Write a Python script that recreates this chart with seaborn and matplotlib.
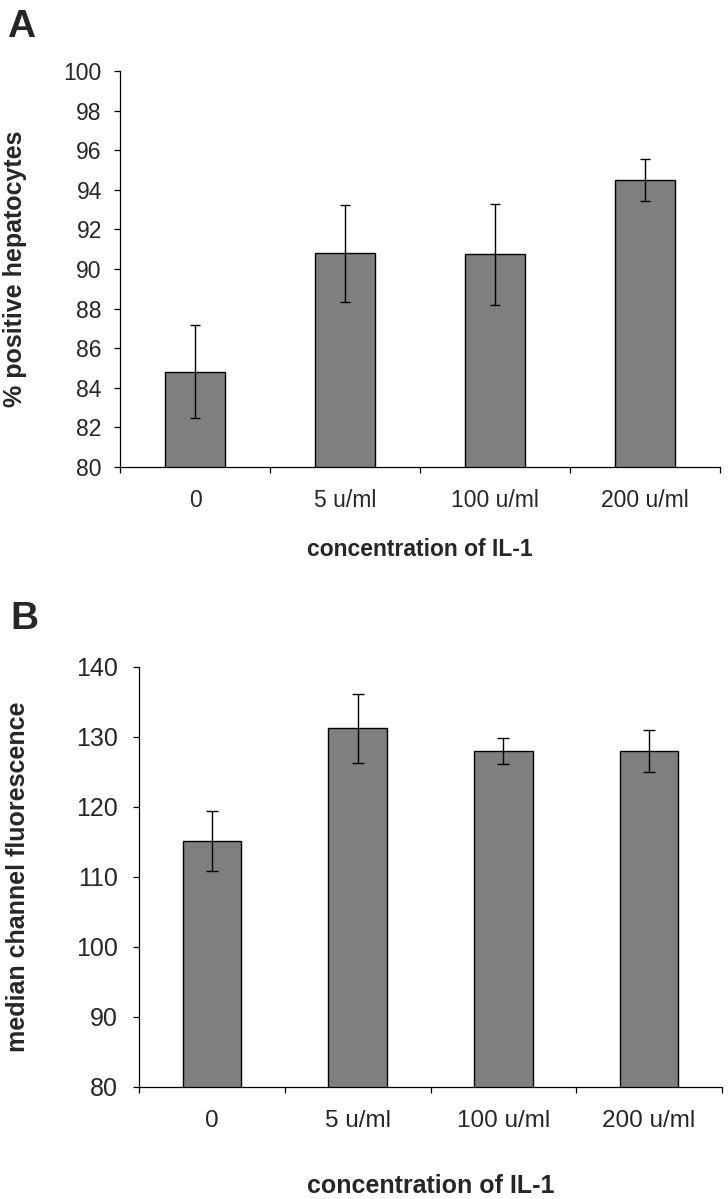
import pandas as pd
import matplotlib
matplotlib.use("Agg")
from matplotlib import pyplot as plt
from matplotlib.ticker import FixedLocator
import seaborn as sns

# data
concentrations = ['0', '5 u/ml', '100 u/ml', '200 u/ml']
pos_hepatocytes = [84.8, 90.8, 90.75, 94.5]
pos_hepatocytes_err = [2.35, 2.45, 2.55, 1.05]
median_fluor = [115.1, 131.2, 128.0, 128.0]
median_fluor_err = [4.3, 4.9, 1.85, 3.0]

sns.set_style('ticks')
plt.rcParams['font.family'] = ['Liberation Sans', 'DejaVu Sans']

bar_color = '#7f7f7f'

fig = plt.figure(figsize=(7.28, 11.99), dpi=100)
ax_a = fig.add_axes([120 / 728, 1 - 467 / 1199, 600 / 728, 396 / 1199])
ax_b = fig.add_axes([139 / 728, 1 - 1086.7 / 1199, 583 / 728, 420 / 1199])


def draw_panel(ax, values, errors, ylim, yticks, ylabel, sizes, capsize):
    df = pd.DataFrame({'conc': concentrations, 'val': values})
    sns.barplot(data=df, x='conc', y='val', ax=ax, color=bar_color,
                width=0.4, edgecolor='black', linewidth=1.0,
                errorbar=None, saturation=1)
    # error bars at bar centres
    centres = [p.get_x() + p.get_width() / 2 for p in ax.patches]
    ax.errorbar(centres, values, yerr=errors, fmt='none', ecolor='black',
                elinewidth=1.0, capsize=capsize, capthick=1.0)

    ax.set_ylim(*ylim)
    ax.set_yticks(yticks)
    ax.set_xlim(-0.5, len(concentrations) - 0.5)
    ax.xaxis.set_minor_locator(FixedLocator([i - 0.5 for i in range(len(concentrations) + 1)]))

    ytick_size, xtick_size, ylabel_size, xlabel_size, ypad, xpad = sizes
    ax.tick_params(axis='y', which='major', length=4.5, width=0.9,
                   labelsize=ytick_size, pad=ypad, color='black')
    ax.tick_params(axis='x', which='major', length=0, labelsize=xtick_size, pad=xpad)
    ax.tick_params(axis='x', which='minor', length=4.5, width=0.9, direction='out', color='black')

    for s in ['top', 'right']:
        ax.spines[s].set_visible(False)
    for s in ['left', 'bottom']:
        ax.spines[s].set_linewidth(0.9)
        ax.spines[s].set_color('black')

    ax.set_ylabel(ylabel, fontsize=ylabel_size, fontweight='bold', va='center')
    ax.set_xlabel('concentration of IL-1', fontsize=xlabel_size, fontweight='bold')


draw_panel(ax_a, pos_hepatocytes, pos_hepatocytes_err, (80, 100), list(range(80, 101, 2)),
           '% positive hepatocytes', (16.5, 16.5, 18, 16.5, 8.6, 15.5), 3.6)
draw_panel(ax_b, median_fluor, median_fluor_err, (80, 140), list(range(80, 141, 10)),
           'median channel fluorescence', (18, 17.5, 18, 18, 10.8, 16.5), 4.3)

ax_a.yaxis.set_label_coords(-0.175, 0.5)
ax_a.xaxis.set_label_coords(0.5, -0.18)
ax_b.yaxis.set_label_coords(-0.208, 0.5)
ax_b.xaxis.set_label_coords(0.5, -0.207)

# panel letters
fig.text(7 / 728, 1 - 9 / 1199, 'A', fontsize=28, fontweight='bold', va='top', ha='left')
fig.text(10 / 728, 1 - 601 / 1199, 'B', fontsize=28, fontweight='bold', va='top', ha='left')

fig.savefig('out.png', dpi=100)
